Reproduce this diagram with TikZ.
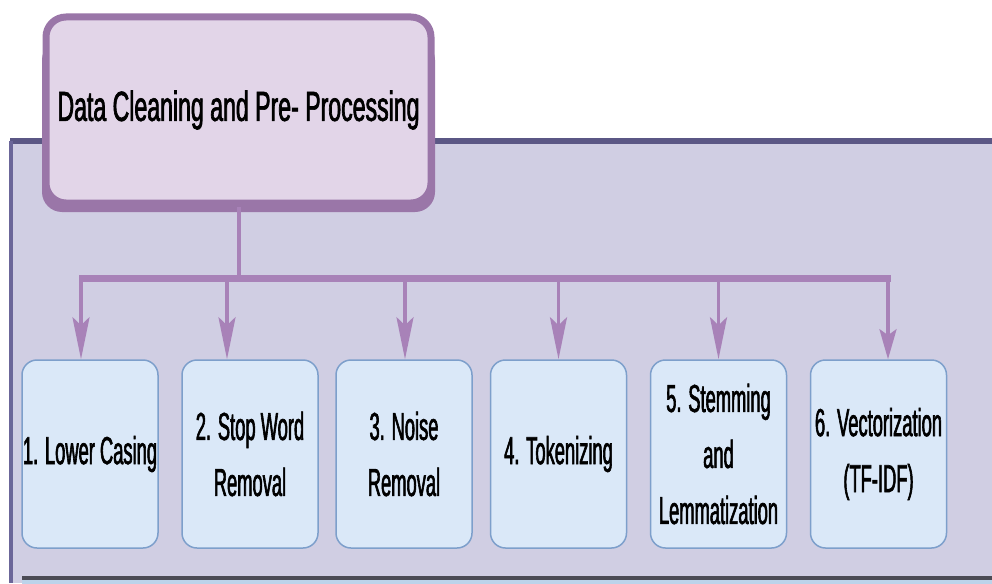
\documentclass[tikz,border=0pt]{standalone}
\usepackage{fontspec}
\setmainfont{Liberation Sans}
\newfontfamily\titlefont{Liberation Sans}[FakeStretch=0.55,FakeBold=1.6]
\newfontfamily\boxfont{Liberation Sans}[FakeStretch=0.47,FakeBold=1.5]
\usetikzlibrary{arrows.meta,calc}
\definecolor{panelfill}{HTML}{D0CEE3}
\definecolor{paneltop}{HTML}{5B5785}
\definecolor{panelleft}{HTML}{6B6699}
\definecolor{titlefill}{HTML}{E2D5E8}
\definecolor{titleborder}{HTML}{9A76A8}
\definecolor{linkcol}{HTML}{A882B8}
\definecolor{boxfill}{HTML}{DAE8F8}
\definecolor{boxborder}{HTML}{7D9FCB}
\definecolor{lowerfill}{HTML}{BCD3EA}
\definecolor{lowerline}{HTML}{4B4B55}
\begin{document}
\begin{tikzpicture}[x=1pt,y=1pt,
  stepbox/.style={draw=boxborder, line width=1.5pt, fill=boxfill, rounded corners=15pt,
    minimum width=136pt, minimum height=188pt, inner sep=0pt, align=center,
    font=\boxfont\fontsize{39}{56}\selectfont},
  titlebox/.style={draw=titleborder, line width=7pt, fill=titlefill, rounded corners=20pt,
    minimum width=385pt, minimum height=186pt, inner sep=0pt,
    font=\titlefont\fontsize{42}{50}\selectfont},
  busline/.style={draw=linkcol, line width=7pt},
  stemline/.style={draw=linkcol, line width=4pt},
  arrline/.style={draw=linkcol, line width=3.5pt, -{Stealth[length=42pt,width=17pt,inset=8pt]}},
  arrshort/.style={draw=linkcol, line width=3.5pt, -{Stealth[length=30pt,width=17pt,inset=6pt]}}
]
\useasboundingbox (0,0) rectangle (992,-583);
\fill[white] (0,0) rectangle (992,-583);
% main panel
\fill[panelfill] (10,-140) rectangle (992,-583);
\draw[paneltop, line width=6pt] (10,-141) -- (992,-141);
\draw[panelleft, line width=4pt] (11,-141) -- (11,-583);
% lower panel
\fill[lowerfill] (22,-577) rectangle (992,-590);
\draw[lowerline, line width=4pt] (22,-577.5) -- (992,-577.5);
% title shadow band
\fill[titleborder, rounded corners=20pt] (42,-40) rectangle (435,-212);
% title
\node[titlebox] (title) at (238.5,-110) {\raisebox{-9pt}{Data Cleaning and Pre- Processing}};
% step boxes
\node[stepbox] (b1) at (90,-454) {1. Lower Casing};
\node[stepbox] (b2) at (250,-454) {2. Stop Word\\Removal};
\node[stepbox] (b3) at (404,-454) {3. Noise\\Removal};
\node[stepbox] (b4) at (558.5,-454) {4. Tokenizing};
\node[stepbox] (b5) at (718.5,-454) {5. Stemming\\and\\Lemmatization};
\node[stepbox] (b6) at (878.5,-454) {6. Vectorization\\(TF-IDF)};
% bus
\coordinate (busL) at (79,-278);
\coordinate (busR) at (891,-278);
\draw[busline] (busL) -- (busR);
\draw[stemline] (title.south) -- (title.south |- busL);
% arrow targets
\coordinate (t1) at ($(b1.north)+(-9,0)$);
\coordinate (t2) at ($(b2.north)+(-23,0)$);
\coordinate (t3) at ($(b3.north)+(1,0)$);
\coordinate (t4) at ($(b4.north)+(0,0)$);
\coordinate (t5) at ($(b5.north)+(0,0)$);
\coordinate (t6) at ($(b6.north)+(9.5,0)$);
\draw[arrline] (t1 |- busL) -- (t1);
\draw[arrline] (t2 |- busL) -- (t2);
\draw[arrline] (t3 |- busL) -- (t3);
\draw[arrline] (t4 |- busL) -- (t4);
\draw[arrline] (t5 |- busL) -- (t5);
\draw[arrshort] (t6 |- busL) -- (t6);
\end{tikzpicture}
\end{document}
